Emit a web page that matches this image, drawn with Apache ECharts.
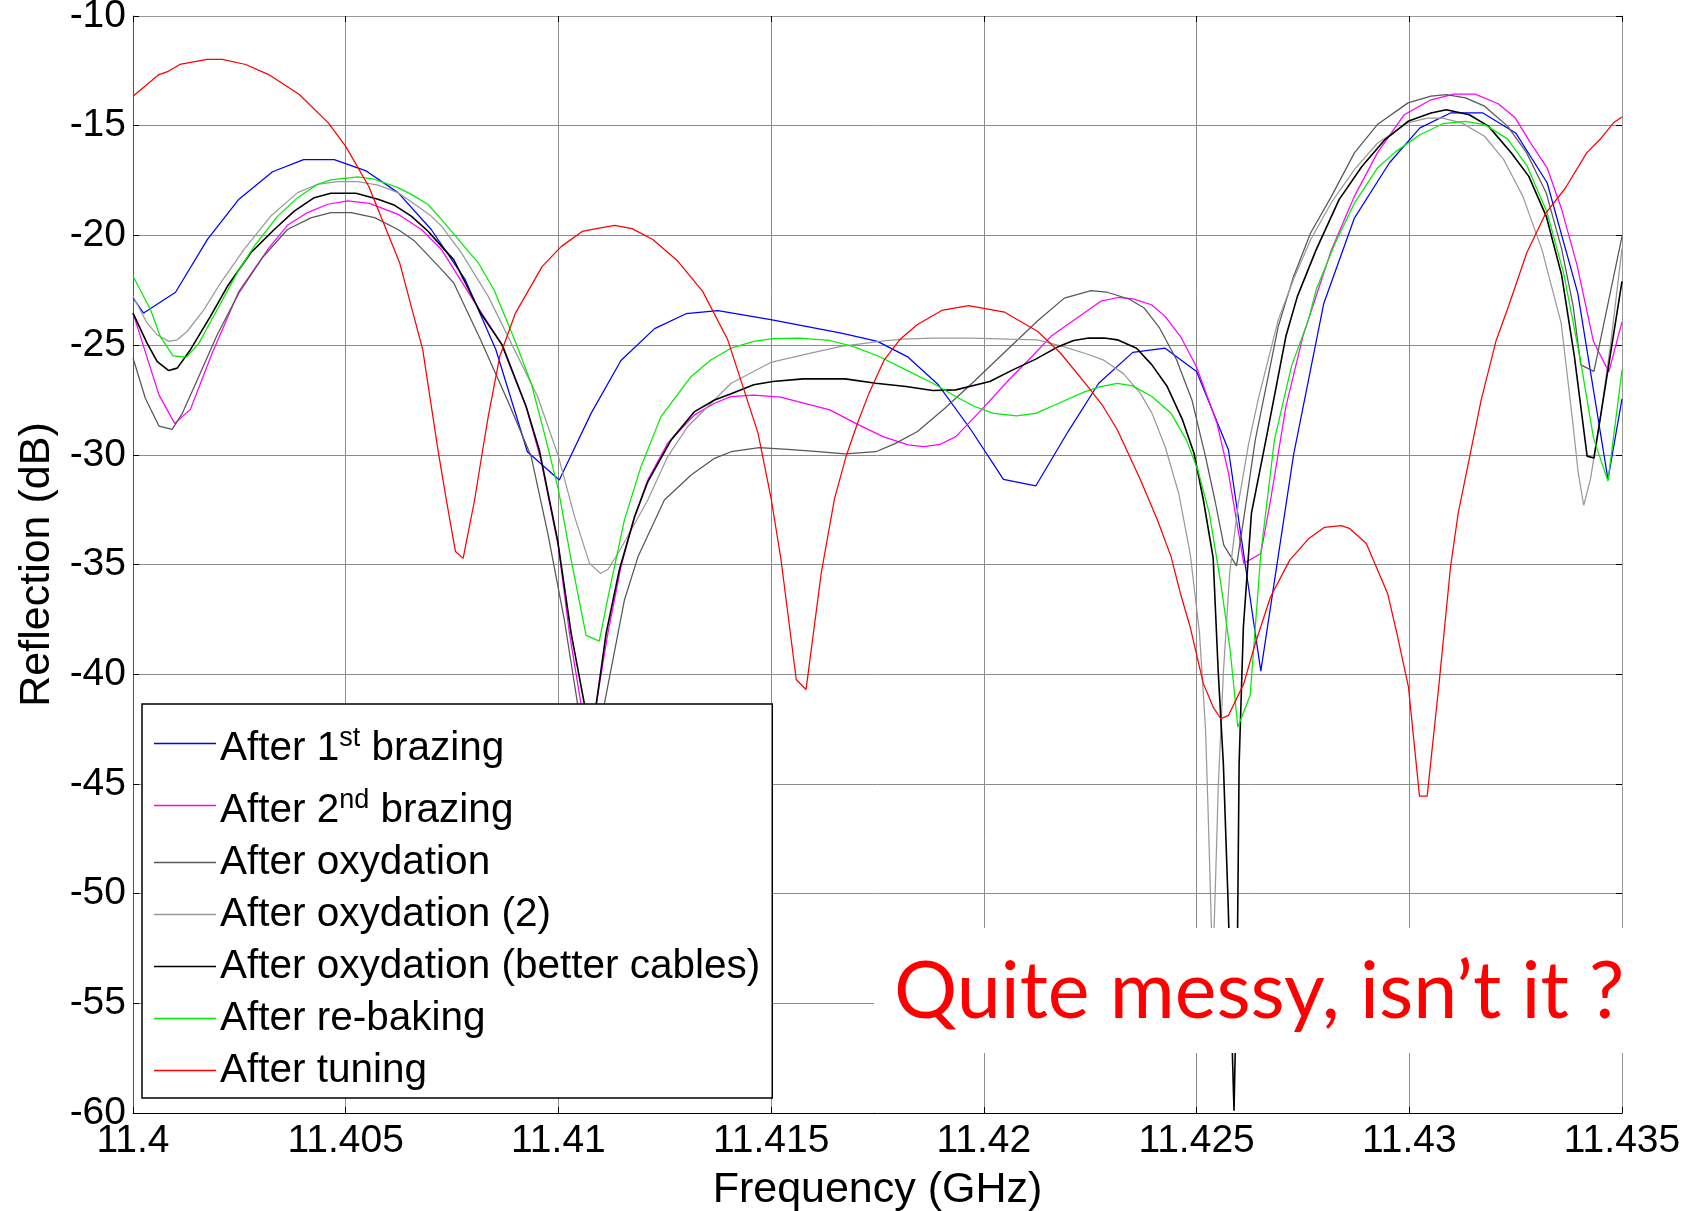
<!DOCTYPE html>
<html>
<head>
<meta charset="utf-8">
<title>Reflection vs frequency</title>
<script src="https://cdn.jsdelivr.net/npm/echarts@6/dist/echarts.min.js"></script>
<style>
  html, body { margin: 0; padding: 0; background: #fff; }
  #chart { width: 1702px; height: 1211px; }
</style>
</head>
<body>
<div id="chart"></div>
<script>
// series names (legend order)
const seriesNames = [
  'After 1st brazing',
  'After 2nd brazing',
  'After oxydation',
  'After oxydation (2)',
  'After oxydation (better cables)',
  'After re-baking',
  'After tuning'
];
const seriesColors = ['#0000ff', '#ff00ff', '#575757', '#9a9a9a', '#000000', '#00ee00', '#ff0000'];

// axis ticks
const freqMin = 11.4, freqMax = 11.435, freqStep = 0.005;
const dbMin = -60, dbMax = -10, dbStep = 5;

// [frequency GHz, reflection dB]
const brazing1 = [
  [11.4, -22.85], [11.40025, -23.54], [11.401, -22.59], [11.40175, -20.18], [11.40249, -18.35],
  [11.40328, -17.1], [11.40401, -16.55], [11.40473, -16.55], [11.40548, -17.06], [11.40623, -18.05],
  [11.40701, -19.73], [11.40781, -22.02], [11.40853, -25.21], [11.40927, -29.86], [11.41002, -31.15],
  [11.41077, -28.1], [11.41147, -25.7], [11.41226, -24.25], [11.413, -23.57], [11.41375, -23.43],
  [11.41499, -23.84], [11.41665, -24.45], [11.4175, -24.83], [11.41822, -25.55], [11.41893, -26.81],
  [11.4197, -28.87], [11.42046, -31.12], [11.42122, -31.42], [11.42198, -28.94], [11.4227, -26.74],
  [11.4235, -25.33], [11.42426, -25.14], [11.425, -26.2], [11.42575, -29.78], [11.42651, -39.86],
  [11.42728, -30.0], [11.42799, -23.1], [11.42871, -19.21], [11.42953, -16.7], [11.43025, -15.1],
  [11.43097, -14.42], [11.43173, -14.42], [11.4325, -15.33], [11.43324, -17.6], [11.43396, -22.63],
  [11.43467, -31.12], [11.435, -27.45]
];

const brazing2 = [
  [11.4, -23.54], [11.40061, -27.27], [11.40098, -28.57], [11.40135, -27.93], [11.40186, -25.37],
  [11.40249, -22.55], [11.4032, -20.56], [11.40363, -19.54], [11.4041, -18.96], [11.40458, -18.58],
  [11.40505, -18.43], [11.40556, -18.54], [11.40623, -19.04], [11.40678, -19.73], [11.40725, -20.64],
  [11.40799, -22.93], [11.40865, -24.91], [11.40924, -27.8], [11.40959, -30.24], [11.41, -34.2],
  [11.41026, -38.15], [11.41053, -41.35], [11.41072, -44.5], [11.41089, -41.35], [11.41116, -38.15],
  [11.41147, -35.1], [11.41179, -32.82], [11.4121, -31.15], [11.41257, -29.47], [11.4132, -28.18],
  [11.41367, -27.65], [11.41405, -27.35], [11.41459, -27.28], [11.41522, -27.37], [11.41638, -27.95],
  [11.41701, -28.59], [11.41763, -29.17], [11.41822, -29.55], [11.41858, -29.63], [11.41898, -29.52],
  [11.41934, -29.17], [11.41996, -27.92], [11.42059, -26.58], [11.42113, -25.52], [11.42158, -24.6],
  [11.42213, -23.84], [11.42275, -23.0], [11.42315, -22.83], [11.42351, -22.89], [11.42394, -23.16],
  [11.42426, -23.69], [11.42462, -24.6], [11.425, -26.0], [11.42548, -28.56], [11.42575, -30.84],
  [11.42611, -34.95], [11.42651, -34.5], [11.42674, -32.06], [11.4271, -27.8], [11.4275, -24.6],
  [11.42777, -23.0], [11.42817, -20.66], [11.42871, -18.22], [11.42925, -16.24], [11.42988, -14.5],
  [11.43051, -13.82], [11.43105, -13.56], [11.43155, -13.56], [11.43209, -14.0], [11.43249, -14.64],
  [11.43285, -15.78], [11.43324, -16.92], [11.43358, -18.8], [11.43394, -21.33], [11.43433, -24.84],
  [11.43469, -26.22], [11.435, -23.94]
];

const oxydation = [
  [11.4, -25.59], [11.40029, -27.42], [11.40061, -28.69], [11.40092, -28.84], [11.40116, -28.11],
  [11.40151, -26.59], [11.40198, -24.53], [11.40249, -22.62], [11.40304, -21.02], [11.40363, -19.73],
  [11.40418, -19.2], [11.40465, -18.96], [11.40513, -18.96], [11.40568, -19.19], [11.40623, -19.73],
  [11.40662, -20.26], [11.40725, -21.55], [11.40754, -22.17], [11.40817, -24.76], [11.4088, -27.5],
  [11.40936, -30.08], [11.40975, -33.58], [11.41014, -37.54], [11.41045, -41.35], [11.41075, -44.5],
  [11.41108, -41.35], [11.41155, -36.63], [11.41187, -34.65], [11.41249, -32.06], [11.41312, -30.92],
  [11.41367, -30.16], [11.41406, -29.86], [11.41472, -29.67], [11.41539, -29.75], [11.41611, -29.86],
  [11.41674, -29.96], [11.41746, -29.86], [11.4179, -29.5], [11.41844, -28.94], [11.41907, -27.9],
  [11.41973, -26.73], [11.4205, -25.3], [11.42126, -23.9], [11.42189, -22.86], [11.42252, -22.52],
  [11.42288, -22.58], [11.42341, -22.9], [11.42377, -23.31], [11.42413, -24.22], [11.42453, -25.67],
  [11.42489, -27.5], [11.42521, -30.08], [11.42543, -32.06], [11.42564, -34.12], [11.42594, -35.06],
  [11.42615, -32.37], [11.42638, -29.32], [11.42665, -26.74], [11.42692, -24.15], [11.42728, -21.87],
  [11.42768, -19.89], [11.42817, -18.22], [11.42871, -16.24], [11.42925, -14.95], [11.42997, -13.96],
  [11.43051, -13.65], [11.43087, -13.58], [11.43132, -13.73], [11.43177, -14.11], [11.43231, -15.02],
  [11.43276, -16.24], [11.43322, -18.07], [11.43358, -20.6], [11.43385, -23.2], [11.43403, -25.9],
  [11.43434, -26.2], [11.435, -20.05]
];

const oxydation2 = [
  [11.4, -22.77], [11.40033, -23.99], [11.40057, -24.53], [11.40084, -24.83], [11.40104, -24.76],
  [11.40127, -24.38], [11.40167, -23.38], [11.40206, -22.16], [11.40261, -20.64], [11.40324, -19.12],
  [11.40387, -18.05], [11.40434, -17.67], [11.40481, -17.55], [11.40528, -17.55], [11.40576, -17.71],
  [11.40623, -18.05], [11.40662, -18.58], [11.40701, -19.12], [11.40725, -19.57], [11.40772, -20.8],
  [11.40835, -22.78], [11.40889, -24.91], [11.40951, -27.34], [11.41, -30.08], [11.41038, -32.82],
  [11.41073, -34.95], [11.41099, -35.41], [11.41116, -35.23], [11.4114, -34.5], [11.41171, -33.43],
  [11.4121, -32.06], [11.41257, -30.08], [11.41304, -28.71], [11.41351, -27.8], [11.41406, -26.74],
  [11.41499, -25.79], [11.41593, -25.37], [11.41665, -25.06], [11.41755, -24.83], [11.41808, -24.73],
  [11.4188, -24.68], [11.4197, -24.68], [11.42059, -24.73], [11.42126, -24.76], [11.42185, -25.06],
  [11.42248, -25.44], [11.42283, -25.7], [11.42328, -26.3], [11.42368, -27.2], [11.42395, -28.1],
  [11.42426, -29.62], [11.42458, -31.76], [11.42485, -34.5], [11.42507, -38.15], [11.42521, -42.5],
  [11.42527, -46.17], [11.42538, -53.65], [11.42547, -47.83], [11.42551, -45.13], [11.42563, -39.93],
  [11.42578, -35.36], [11.42598, -32.24], [11.42622, -29.54], [11.42645, -27.46], [11.42692, -23.85],
  [11.42728, -22.0], [11.42768, -20.2], [11.42817, -18.5], [11.42871, -17.0], [11.42925, -15.8],
  [11.42997, -14.87], [11.43042, -14.65], [11.43078, -14.65], [11.43123, -14.87], [11.43177, -15.48],
  [11.43222, -16.55], [11.43267, -18.22], [11.43312, -20.66], [11.43357, -24.0], [11.43383, -28.3],
  [11.43397, -30.8], [11.4341, -32.3], [11.43426, -31.1], [11.43449, -28.3], [11.43473, -25.0],
  [11.435, -20.6]
];

const betterCables = [
  [11.4, -23.54], [11.40033, -24.91], [11.40057, -25.75], [11.40084, -26.16], [11.40104, -26.05],
  [11.40135, -25.21], [11.40182, -23.69], [11.40222, -22.32], [11.40277, -20.79], [11.40332, -19.73],
  [11.40379, -18.89], [11.40426, -18.28], [11.40465, -18.08], [11.40524, -18.08], [11.40576, -18.35],
  [11.40615, -18.63], [11.40654, -19.12], [11.40693, -19.8], [11.40725, -20.49], [11.40754, -21.11],
  [11.40817, -23.54], [11.40868, -25.0], [11.40924, -27.8], [11.40955, -29.78], [11.40998, -33.89],
  [11.4103, -38.15], [11.41061, -41.35], [11.41076, -44.5], [11.41089, -41.35], [11.41112, -38.15],
  [11.41143, -35.26], [11.41179, -32.82], [11.4121, -31.23], [11.41265, -29.32], [11.4132, -28.03],
  [11.41367, -27.5], [11.41406, -27.22], [11.41459, -26.81], [11.41504, -26.66], [11.41575, -26.54],
  [11.41674, -26.54], [11.41746, -26.74], [11.41817, -26.89], [11.4188, -27.07], [11.41934, -27.04],
  [11.42014, -26.66], [11.42068, -26.13], [11.42122, -25.64], [11.42176, -25.06], [11.42211, -24.79],
  [11.42247, -24.68], [11.42283, -24.68], [11.42314, -24.76], [11.42359, -25.14], [11.42395, -25.9],
  [11.42431, -26.89], [11.42467, -28.41], [11.42494, -29.93], [11.42516, -32.06], [11.42539, -34.7],
  [11.42551, -39.93], [11.42563, -44.09], [11.42574, -50.32], [11.42588, -59.9], [11.42596, -52.4],
  [11.426, -44.09], [11.4261, -37.86], [11.42629, -32.66], [11.42665, -29.13], [11.4271, -24.6],
  [11.42737, -22.78], [11.42781, -20.66], [11.42835, -18.37], [11.42889, -16.85], [11.42943, -15.63],
  [11.42997, -14.8], [11.43051, -14.42], [11.43087, -14.27], [11.43141, -14.5], [11.43186, -15.02],
  [11.4324, -16.24], [11.43281, -17.31], [11.43322, -19.13], [11.43358, -21.8], [11.43388, -25.5],
  [11.43418, -30.06], [11.43434, -30.15], [11.435, -22.1]
];

const rebaking = [
  [11.4, -21.86], [11.40041, -23.38], [11.40064, -24.6], [11.40094, -25.49], [11.40126, -25.55],
  [11.40155, -24.91], [11.40198, -23.38], [11.40245, -21.71], [11.40285, -20.49], [11.4034, -19.12],
  [11.40387, -18.28], [11.40434, -17.67], [11.40465, -17.47], [11.40528, -17.33], [11.40567, -17.44],
  [11.40623, -17.82], [11.40654, -18.13], [11.40693, -18.58], [11.40725, -19.27], [11.40812, -21.26],
  [11.40849, -22.5], [11.40897, -24.76], [11.40936, -26.74], [11.40967, -29.02], [11.41, -31.6],
  [11.4103, -34.8], [11.41065, -38.23], [11.41096, -38.49], [11.4112, -36.17], [11.41155, -32.98],
  [11.41194, -30.54], [11.41241, -28.26], [11.41312, -26.43], [11.41359, -25.67], [11.41406, -25.14],
  [11.41459, -24.83], [11.41504, -24.71], [11.41566, -24.68], [11.41638, -24.79], [11.41692, -25.06],
  [11.41754, -25.52], [11.41817, -26.13], [11.4188, -26.74], [11.41934, -27.34], [11.41978, -27.8],
  [11.42023, -28.11], [11.42077, -28.23], [11.42122, -28.11], [11.42176, -27.65], [11.42238, -27.12],
  [11.42274, -26.89], [11.42314, -26.74], [11.4235, -26.86], [11.42395, -27.34], [11.4244, -28.11],
  [11.42476, -29.32], [11.42503, -30.69], [11.4253, -32.67], [11.42557, -35.87], [11.42579, -38.91],
  [11.42597, -42.41], [11.42626, -40.96], [11.42651, -34.5], [11.42683, -29.32], [11.42723, -25.97],
  [11.42763, -23.84], [11.42781, -22.48], [11.42826, -20.35], [11.42871, -18.53], [11.42925, -16.93],
  [11.42969, -16.17], [11.43025, -15.41], [11.43079, -14.91], [11.43132, -14.8], [11.43177, -14.95],
  [11.43231, -15.6], [11.43277, -16.84], [11.43324, -18.96], [11.43363, -21.74], [11.43402, -25.65],
  [11.43433, -29.24], [11.43467, -31.2], [11.435, -26.14]
];

const tuning = [
  [11.4, -13.66], [11.40061, -12.67], [11.40083, -12.52], [11.4011, -12.21], [11.40174, -11.98],
  [11.4021, -11.98], [11.40265, -12.21], [11.40319, -12.67], [11.40391, -13.58], [11.40459, -14.87],
  [11.405, -15.94], [11.40554, -17.76], [11.40627, -21.26], [11.40681, -25.21], [11.40717, -29.8],
  [11.40736, -32.0], [11.40758, -34.41], [11.40776, -34.72], [11.40803, -32.06], [11.40822, -29.77],
  [11.40835, -28.26], [11.40862, -25.52], [11.40899, -23.54], [11.40962, -21.41], [11.41007, -20.5],
  [11.41056, -19.82], [11.41083, -19.71], [11.41132, -19.54], [11.41173, -19.69], [11.41222, -20.19],
  [11.41281, -21.18], [11.41339, -22.55], [11.41398, -24.76], [11.41469, -29.0], [11.415, -32.0],
  [11.41523, -34.75], [11.41559, -40.24], [11.41582, -40.7], [11.41618, -35.36], [11.41649, -32.0],
  [11.41676, -30.08], [11.41703, -28.56], [11.4173, -27.19], [11.41766, -25.67], [11.41802, -24.76],
  [11.41843, -24.07], [11.41901, -23.42], [11.41964, -23.2], [11.42049, -23.5], [11.42126, -24.37],
  [11.4218, -25.36], [11.42238, -26.73], [11.42278, -27.72], [11.42314, -28.87], [11.42368, -31.14],
  [11.42408, -32.97], [11.4244, -34.64], [11.42462, -36.32], [11.42485, -37.85], [11.42516, -40.43],
  [11.42539, -41.5], [11.42557, -42.03], [11.42575, -41.88], [11.42611, -40.43], [11.42638, -38.6],
  [11.42674, -36.47], [11.42719, -34.8], [11.42764, -33.81], [11.428, -33.31], [11.4284, -33.23],
  [11.42859, -33.35], [11.42899, -34.04], [11.42949, -36.32], [11.42971, -38.15], [11.42998, -40.58],
  [11.43024, -45.56], [11.43042, -45.56], [11.4307, -40.43], [11.43097, -35.1], [11.43115, -32.66],
  [11.43142, -30.08], [11.43169, -27.5], [11.43204, -24.8], [11.43232, -23.3], [11.43276, -20.8],
  [11.43321, -18.98], [11.43367, -17.84], [11.43417, -16.24], [11.43448, -15.63], [11.4348, -14.87],
  [11.435, -14.6]
];

const seriesData = [brazing1, brazing2, oxydation, oxydation2, betterCables, rebaking, tuning];

const FONT = '"Liberation Sans", Arial, sans-serif';

// superscripts in the first two legend entries
function legendLabel(name) {
  if (name === 'After 1st brazing') return '{t|After 1}{sup|st}{t| brazing}';
  if (name === 'After 2nd brazing') return '{t|After 2}{sup|nd}{t| brazing}';
  return '{n|' + name + '}';
}

var chart = echarts.init(document.getElementById('chart'), null, { renderer: 'canvas' });

var option = {
  animation: false,
  backgroundColor: '#fff',
  grid: { left: 133, top: 16, width: 1489, height: 1097, containLabel: false, outerBoundsMode: 'none' },
  xAxis: [
    {
      type: 'value', min: freqMin, max: freqMax, interval: freqStep,
      name: 'Frequency (GHz)', nameLocation: 'middle', nameGap: 56, nameMoveOverlap: false,
      nameTextStyle: { fontFamily: FONT, fontSize: 43, color: '#000' },
      axisLine: { show: true, onZero: false, lineStyle: { color: '#000', width: 1 } },
      axisTick: { show: true, inside: true, length: 6, lineStyle: { color: '#000' } },
      axisLabel: {
        fontFamily: FONT, fontSize: 39, color: '#000', margin: 9,
        formatter: function (v) { return String(+v.toFixed(3)); }
      },
      splitLine: { show: true, lineStyle: { color: '#8c8c8c', width: 1 } }
    },
    {
      type: 'value', position: 'top', min: freqMin, max: freqMax, interval: freqStep,
      axisLine: { show: true, onZero: false, lineStyle: { color: '#999', width: 1 } },
      axisTick: { show: true, inside: true, length: 6, lineStyle: { color: '#000' } },
      axisLabel: { show: false },
      splitLine: { show: false }
    }
  ],
  yAxis: [
    {
      type: 'value', min: dbMin, max: dbMax, interval: dbStep,
      name: 'Reflection (dB)', nameLocation: 'middle', nameGap: 74, nameMoveOverlap: false,
      nameTextStyle: { fontFamily: FONT, fontSize: 43, color: '#000' },
      axisLine: { show: true, onZero: false, lineStyle: { color: '#555', width: 1 } },
      axisTick: { show: true, inside: true, length: 6, lineStyle: { color: '#000' } },
      axisLabel: { fontFamily: FONT, fontSize: 39, color: '#000', margin: 7 },
      splitLine: { show: true, lineStyle: { color: '#8c8c8c', width: 1 } }
    },
    {
      type: 'value', position: 'right', min: dbMin, max: dbMax, interval: dbStep,
      axisLine: { show: true, onZero: false, lineStyle: { color: '#999', width: 1 } },
      axisTick: { show: true, inside: true, length: 6, lineStyle: { color: '#000' } },
      axisLabel: { show: false },
      splitLine: { show: false }
    }
  ],
  legend: {
    orient: 'vertical',
    left: 142, top: 704,
    padding: [14, 12, 7, 12],
    backgroundColor: '#fff',
    borderColor: '#000', borderWidth: 1.5, borderRadius: 0,
    icon: 'rect',
    itemWidth: 62, itemHeight: 1.4, itemGap: 11,
    selectedMode: false,
    data: seriesNames,
    formatter: legendLabel,
    textStyle: {
      fontFamily: FONT, fontSize: 40.5, color: '#000', padding: [0, 0, 0, -1],
      rich: {
        n: { fontFamily: FONT, fontSize: 40.5, lineHeight: 40, color: '#000' },
        t: { fontFamily: FONT, fontSize: 40.5, lineHeight: 40, color: '#000', padding: [10, 0, 0, 0] },
        sup: { fontFamily: FONT, fontSize: 27, lineHeight: 26, color: '#000', verticalAlign: 'top', padding: [2, 0, 0, 0] }
      }
    }
  },
  graphic: [
    {
      type: 'rect', z: 100,
      shape: { x: 874, y: 928, width: 752, height: 125 },
      style: { fill: '#fff' }
    },
    {
      type: 'text', z: 101, x: 894, y: 993,
      style: {
        text: 'Quite messy, isn\u2019t it ?',
        fontFamily: 'Lato', fontSize: 79, fill: '#ff0000',
        textAlign: 'left', textVerticalAlign: 'middle'
      }
    }
  ],
  series: seriesNames.map(function (name, i) {
    return {
      name: name,
      type: 'line',
      data: seriesData[i],
      symbol: 'none',
      showSymbol: false,
      clip: true,
      color: seriesColors[i],
      lineStyle: { color: seriesColors[i], width: i === 4 ? 1.6 : 1.25 },
      emphasis: { disabled: true },
      z: 2 + i * 0.01
    };
  })
};

chart.setOption(option);
</script>
</body>
</html>
